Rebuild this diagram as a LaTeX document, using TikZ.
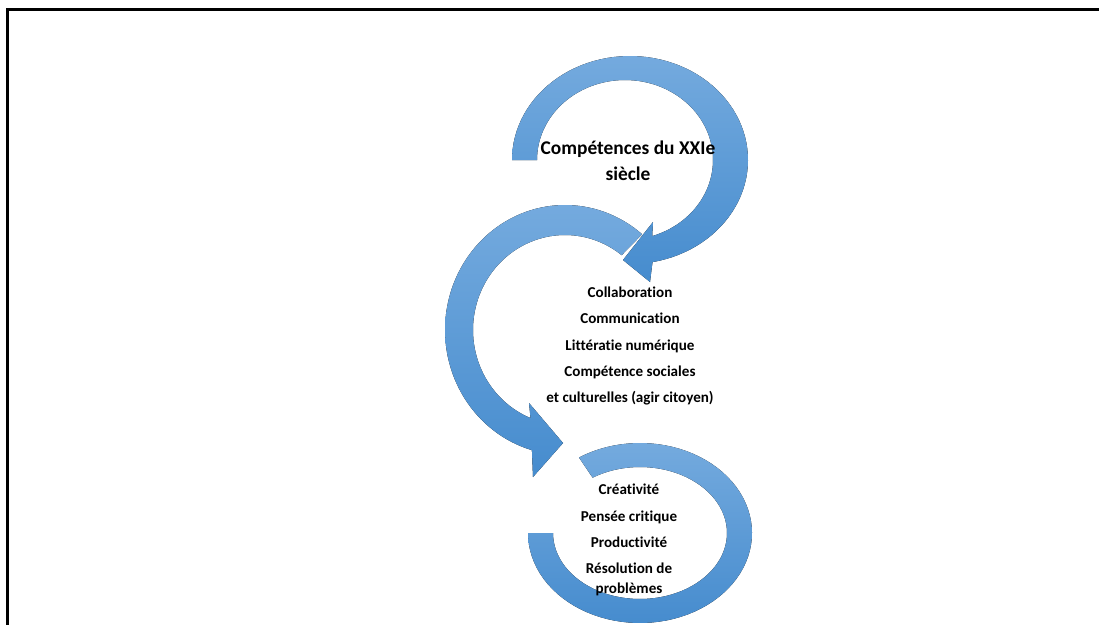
\documentclass[tikz,border=0pt]{standalone}
\usepackage{fontspec}
\setmainfont{Carlito}[Ligatures={NoCommon,NoContextual}]
\definecolor{blueLight}{RGB}{116,170,222}
\definecolor{blueDark}{RGB}{70,140,206}
\tikzset{
  arcband/.style={top color=blueLight, bottom color=blueDark, draw=none},
  frameline/.style={line width=2.8pt, black},
  titletext/.style={align=center, font=\fontsize{19.4}{26}\selectfont\bfseries, inner sep=0pt},
  listtext/.style={align=center, font=\fontsize{15.1}{26.3}\selectfont\bfseries, inner sep=0pt}
}
\begin{document}
\begin{tikzpicture}[x=1pt,y=-1pt]
\useasboundingbox (0,0) rectangle (1099,624);
\fill[white] (0,0) rectangle (1099,624);
% frame (top and left edges visible)
\draw[frameline] (7.3,630) -- (7.3,9.5) -- (1105,9.5);
% bottom arc
\fill[arcband] plot[domain=123:-180, samples=80] ({640+112*cos(\x)},{533-90*sin(\x)})
  -- plot[domain=-180:123, samples=80] ({640+87*cos(\x)},{533-66*sin(\x)}) -- cycle;
% middle arc
\fill[arcband] plot[domain=50:254, samples=80] ({565+120*cos(\x)},{330-125*sin(\x)})
  -- (533,477) -- (563,443) -- (529,403)
  -- plot[domain=248:52, samples=80] ({565+92*cos(\x)},{330-95*sin(\x)}) -- cycle;
% top arc
\fill[arcband] plot[domain=180:-79, samples=80] ({630+118*cos(\x)},{160-104*sin(\x)})
  -- (650,282) -- (623,260) -- (653,222)
  -- plot[domain=-72:180, samples=80] ({625+88*cos(\x)},{160-80*sin(\x)}) -- cycle;
% texts
\node[titletext] (t1) at (628,161) {Compétences du XXIe\\siècle};
\node[listtext] (t2) at (630,346) {Collaboration\\Communication\\Littératie numérique\\Compétence sociales\\et culturelles (agir citoyen)};
\node[listtext] (t3) at (629,540) {Créativité\\Pensée critique\\Productivité\\Résolution de\\[-6.5pt]problèmes};
\end{tikzpicture}
\end{document}
